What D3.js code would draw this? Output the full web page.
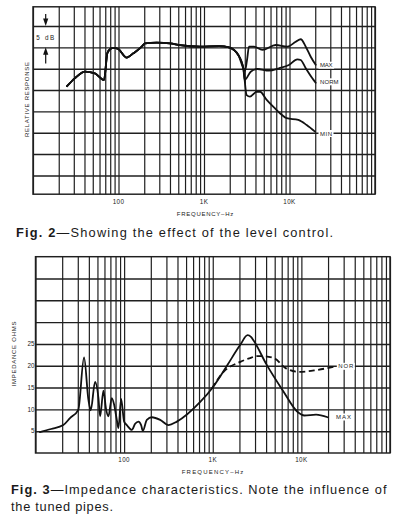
<!DOCTYPE html>
<html><head><meta charset="utf-8">
<script src="https://cdn.jsdelivr.net/npm/d3@7"></script>
<style>
html,body{margin:0;padding:0;background:#fff;}
svg{display:block;}
text{font-family:"Liberation Sans",Arial,Helvetica,sans-serif;fill:#1a1a1a;}
</style>
</head><body>
<svg id="c" width="399" height="514"></svg>
<script>
// ---------- DATA ----------
// Fig. 2 : relative response (dB) vs frequency (Hz)
const fig2Common = [[25,-14.1],[31,-12.2],[40.6,-10.7],[53,-11.1],[67.7,-12.65],[74,-6.4],[79.5,-5.45],[87,-5.1],[99.5,-5.4],[124.7,-7.4],[149,-6.4],[187,-4.85],[204,-4.05],[280,-3.9],[400,-4.05],[524,-4.5],[898,-4.85],[1497,-4.7],[1960,-5.0],[2518,-6.8],[2884,-9.9]];
const fig2MaxTail = [[3017,-10.5],[3184,-8.0],[3358,-4.85],[3845,-4.85],[4812,-5.6],[6900,-4.45],[9425,-4.85],[11830,-3.7],[13530,-3.1],[15490,-4.85],[17710,-7.2],[20240,-9.1]];
const fig2NormTail = [[2990,-12.65],[3518,-10.7],[4200,-10.07],[5750,-10.47],[7530,-9.9],[9860,-9.13],[12340,-7.8],[13520,-7.96],[15490,-9.9],[18490,-12.25],[20240,-13.3]];
const fig2MinTail = [[3155,-16.2],[3451,-16.55],[4133,-15.4],[4519,-15.4],[5411,-17.3],[6766,-19.3],[8100,-20.8],[9270,-21.6],[12670,-22.0],[15890,-23.2],[19870,-24.75]];
const fig2SeriesLabels = ["MAX","NORM","MIN"];
const fig2GridDb = [0,-5,-10,-15,-20,-25,-30,-35];

// Fig. 3 : impedance (ohms) vs frequency (Hz)
const fig3Max = [[11.2,4.8],[15,5.5],[20.6,6.4],[24.5,8.0],[30.4,9.9],[35.3,21.9],[39.5,12.3],[42.0,9.8],[47.0,16.3],[51.3,12.6],[53.6,8.4],[58.4,14.3],[62.6,10],[66.5,8.4],[72.6,12.6],[77.1,11.1],[82.7,7.6],[86.3,5.7],[92.5,12.4],[100,7.2],[107.3,6.4],[122.2,5.3],[133.1,6.7],[145.1,7.2],[155.5,6.4],[162.6,5.1],[180.4,7.6],[205.6,8.2],[255.2,7.6],[316.7,6.4],[393.8,7.2],[722,11.7],[979,14.8],[1446,20.0],[2045,24.8],[2474,27.0],[2700,26.6],[2891,25.8],[3990,20.5],[6147,14.4],[9080,9.4],[10810,8.6],[14650,8.8],[19820,8.2]];
const fig3Nor = [[979,14.8],[1324,18.6],[2045,20.9],[2585,21.7],[3159,22.2],[3654,22.2],[4953,21.7],[6716,19.4],[9490,18.6],[14650,19.0],[24660,19.9]];
const fig3SeriesLabels = ["NOR","MAX"];
const fig3GridOhm = [5,10,15,20,25,30,35,40];
const fig3YTickValues = [5,10,15,20,25];

// Shared axis
const freqDomain = [10,100000];
const xTickValues = [100,1000,10000];
const xTickLabels = ["100","1K","10K"];
const xAxisTitle = "FREQUENCY\u2013Hz";
const fig2YTitle = "RELATIVE RESPONSE";
const fig3YTitle = "IMPEDANCE OHMS";
const fig2Caption = ["Fig. 2","\u2014Showing the effect of the level control."];
const fig3Caption1 = ["Fig. 3","\u2014Impedance characteristics. Note the influence of"];
const fig3Caption2 = "the tuned pipes.";

// ---------- DRAW ----------
const svg = d3.select("#c");
const GRID = "#1f1f1f";

function panel(cfg){
  const g = svg.append("g");
  const x = d3.scaleLog().domain(freqDomain).range([cfg.x0,cfg.x1]);
  const y = d3.scaleLinear().domain(cfg.yDomain).range([cfg.yb,cfg.yt]);
  const vg = g.append("g").attr("transform",`translate(0,${cfg.yb})`)
    .call(d3.axisBottom(x).tickValues(x.ticks()).tickSize(-(cfg.yb-cfg.yt)).tickFormat(""));
  vg.select(".domain").remove();
  vg.selectAll(".tick line").attr("stroke",GRID).attr("stroke-width",1.2);
  const hg = g.append("g").attr("transform",`translate(${cfg.x0},0)`)
    .call(d3.axisLeft(y).tickValues(cfg.gridY).tickSize(-(cfg.x1-cfg.x0)).tickFormat(""));
  hg.select(".domain").remove();
  hg.selectAll(".tick line").attr("stroke",GRID).attr("stroke-width",1.45);
  g.append("rect").attr("x",cfg.x0).attr("y",cfg.yt).attr("width",cfg.x1-cfg.x0).attr("height",cfg.yb-cfg.yt)
    .attr("fill","none").attr("stroke",GRID).attr("stroke-width",1.45);
  g.selectAll(".xl").data(xTickValues).enter().append("text")
    .attr("x",d=>x(d)).attr("y",cfg.xLabY).attr("text-anchor","middle")
    .attr("font-size",6.3).attr("letter-spacing",0.4)
    .text((d,i)=>xTickLabels[i]);
  g.append("text").attr("x",cfg.xTitleX).attr("y",cfg.xTitleY).attr("text-anchor","middle")
    .attr("font-size",6).attr("textLength",cfg.xTitleW).attr("lengthAdjust","spacing").text(xAxisTitle);
  g.append("text").attr("transform",`translate(${cfg.yTitleX},${cfg.yTitleY}) rotate(-90)`)
    .attr("text-anchor","middle").attr("dominant-baseline","central")
    .attr("font-size",6).attr("textLength",cfg.yTitleW).attr("lengthAdjust","spacing").text(cfg.yTitle);
  const line = d3.line().x(d=>x(d[0])).y(d=>y(d[1])).curve(d3.curveMonotoneX);
  return {g,x,y,line};
}
function seriesLabel(g,s,x,y,w){
  g.append("rect").attr("x",x-1.5).attr("y",y-5.5).attr("width",w+3).attr("height",7).attr("fill","#fff");
  g.append("text").attr("x",x).attr("y",y).attr("font-size",6)
    .attr("textLength",w).attr("lengthAdjust","spacing").text(s);
}

// Fig 2
const p2 = panel({x0:33,x1:375,yt:6.8,yb:194.2,yDomain:[-39.4,4.5],gridY:fig2GridDb,
  xLabY:204,xTitleX:205,xTitleY:216,xTitleW:56.5,yTitleX:26.7,yTitleY:99.5,yTitleW:75,yTitle:fig2YTitle});
const curveStyle = s=>s.attr("fill","none").attr("stroke","#111").attr("stroke-width",1.8).attr("stroke-linejoin","round").attr("stroke-linecap","round");
[fig2MaxTail,fig2NormTail,fig2MinTail].forEach(t=>{
  p2.g.append("path").attr("d",p2.line(fig2Common.concat(t))).call(curveStyle);
});
const f2LabPos = [[320,67.2,12.6],[320,83.8,18.6],[320,135.5,12]];
fig2SeriesLabels.forEach((s,i)=>seriesLabel(p2.g,s,f2LabPos[i][0],f2LabPos[i][1],f2LabPos[i][2]));
// 5 dB marker
const ax = 45.7;
const y0 = p2.y(0), y5 = p2.y(-5);
p2.g.append("line").attr("x1",ax).attr("x2",ax).attr("y1",14).attr("y2",y0-4).attr("stroke","#111").attr("stroke-width",1.2);
p2.g.append("path").attr("d",`M${ax-2.6},${y0-7.5}L${ax+2.6},${y0-7.5}L${ax},${y0}Z`).attr("fill","#111");
p2.g.append("line").attr("x1",ax).attr("x2",ax).attr("y1",y5+4).attr("y2",63.5).attr("stroke","#111").attr("stroke-width",1.2);
p2.g.append("path").attr("d",`M${ax-2.6},${y5+7.5}L${ax+2.6},${y5+7.5}L${ax},${y5}Z`).attr("fill","#111");
p2.g.append("text").attr("x",36.3).attr("y",39.8).attr("font-size",6.3).attr("textLength",18).attr("lengthAdjust","spacing").text("5 dB");

const c2 = svg.append("text").attr("x",16).attr("y",237).attr("font-size",12.8)
  .attr("textLength",317).attr("lengthAdjust","spacing");
c2.append("tspan").attr("font-weight","bold").text(fig2Caption[0]);
c2.append("tspan").text(fig2Caption[1]);

// Fig 3
const p3 = panel({x0:35.5,x1:390,yt:256.7,yb:453,yDomain:[0,45],gridY:fig3GridOhm,
  xLabY:461.7,xTitleX:212.5,xTitleY:474.3,xTitleW:61.5,yTitleX:14.2,yTitleY:354,yTitleW:65,yTitle:fig3YTitle});
p3.g.append("path").attr("d",p3.line(fig3Max)).call(curveStyle);
p3.g.append("path").attr("d",p3.line(fig3Nor)).call(curveStyle).attr("stroke-dasharray","6,3.5").attr("stroke-linecap","butt");
p3.g.selectAll(".yl").data(fig3YTickValues).enter().append("text")
  .attr("x",34.5).attr("y",d=>p3.y(d)+2.3).attr("text-anchor","end").attr("font-size",6.3).text(d=>d);
const f3LabPos = [[338.3,368.3,15],[336,419,15]];
fig3SeriesLabels.forEach((s,i)=>seriesLabel(p3.g,s,f3LabPos[i][0],f3LabPos[i][1],f3LabPos[i][2]));
const c3 = svg.append("text").attr("x",11).attr("y",494).attr("font-size",12.8)
  .attr("textLength",375.5).attr("lengthAdjust","spacing");
c3.append("tspan").attr("font-weight","bold").text(fig3Caption1[0]);
c3.append("tspan").text(fig3Caption1[1]);
svg.append("text").attr("x",11).attr("y",510.5).attr("font-size",12.8)
  .attr("textLength",102).attr("lengthAdjust","spacing").text(fig3Caption2);
</script>
</body></html>
